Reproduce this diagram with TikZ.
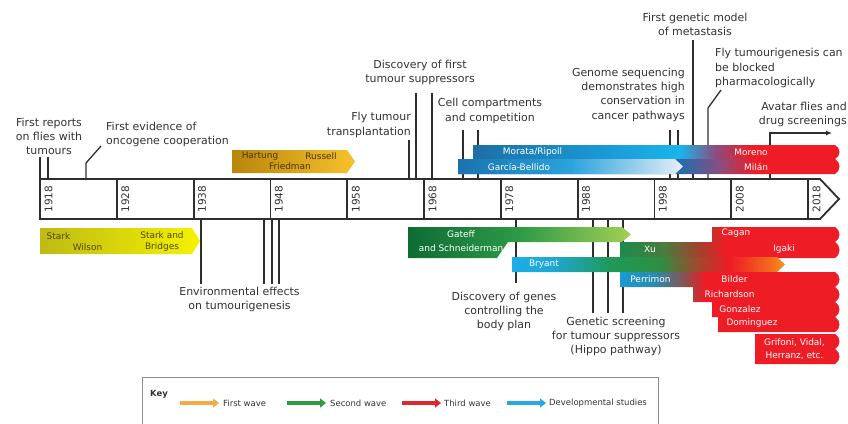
\documentclass[tikz,border=0pt]{standalone}
\usepackage{fontspec}
\setmainfont{DejaVu Sans}
\usetikzlibrary{arrows.meta}
\definecolor{txt}{HTML}{333333}
\definecolor{lc}{HTML}{2E2E2E}
\definecolor{rd}{HTML}{EE1C25}
\definecolor{bA}{HTML}{1D6FA6}
\definecolor{bM}{HTML}{1B98D3}
\definecolor{bB}{HTML}{1AB4EC}
\definecolor{pur}{HTML}{8A4E7E}
\definecolor{lbA}{HTML}{2A6AAA}
\definecolor{xA}{HTML}{1C8A4E}
\definecolor{xB}{HTML}{4E7A3E}
\definecolor{xC}{HTML}{A5402C}
\definecolor{yA}{HTML}{1EAEE6}
\definecolor{yB}{HTML}{1FA6D0}
\definecolor{yC}{HTML}{1E9A58}
\definecolor{yD}{HTML}{2E8E42}
\definecolor{yE}{HTML}{A8442C}
\definecolor{yF}{HTML}{F26A1E}
\definecolor{yG}{HTML}{F7941D}
\definecolor{pA}{HTML}{1B9BD3}
\definecolor{pB}{HTML}{2A8AA8}
\definecolor{pC}{HTML}{8A5050}
\definecolor{kOr}{HTML}{F5A947}
\definecolor{kGr}{HTML}{2E9B3E}
\definecolor{kRd}{HTML}{E0262B}
\definecolor{kBl}{HTML}{27A9E1}
\pgfdeclarehorizontalshading{upband}{100bp}{color(0bp)=(bA); color(25bp)=(bA); color(42.26bp)=(bM); color(53.13bp)=(bB); color(57.88bp)=(pur); color(62.64bp)=(rd); color(100bp)=(rd)}
\pgfdeclarehorizontalshading{lowband}{100bp}{color(0bp)=(lbA); color(25bp)=(lbA); color(54.37bp)=(lbA); color(59.2bp)=(pur); color(63.77bp)=(rd); color(100bp)=(rd)}
\pgfdeclarehorizontalshading{xuband}{100bp}{color(0bp)=(xA); color(25bp)=(xA); color(35.18bp)=(xB); color(43.1bp)=(xC); color(48.76bp)=(rd); color(100bp)=(rd)}
\pgfdeclarehorizontalshading{bryband}{100bp}{color(0bp)=(yA); color(25bp)=(yA); color(32.88bp)=(yB); color(42.95bp)=(yC); color(52.11bp)=(yD); color(59.43bp)=(yE); color(64.93bp)=(rd); color(72.25bp)=(yF); color(75bp)=(yG); color(100bp)=(yG)}
\pgfdeclarehorizontalshading{perband}{100bp}{color(0bp)=(pA); color(25bp)=(pA); color(32.92bp)=(pB); color(39.71bp)=(pC); color(44.23bp)=(rd); color(100bp)=(rd)}
\begin{document}
\begin{tikzpicture}[x=1bp,y=-1bp,
  lbl/.style={font=\fontsize{11}{14.4}\selectfont, text=txt, inner sep=0pt},
  blab/.style={font=\fontsize{9}{10}\selectfont, text=white, inner sep=0pt},
  dlab/.style={font=\fontsize{9}{10}\selectfont, inner sep=0pt},
  yr/.style={font=\fontsize{10.5}{11}\selectfont, text=txt, rotate=90, inner sep=0pt},
  conn/.style={draw=lc, line width=1.3bp},
  barline/.style={draw=lc, line width=1.8bp},
  keyarr/.style={line width=4bp, -{Triangle[length=6bp,width=9bp]}},
  keytxt/.style={font=\fontsize{8.5}{10}\selectfont, text=txt, anchor=west, inner sep=0pt}]
\useasboundingbox (0,0) rectangle (848,423);
\fill[white] (0,0) rectangle (848,423);

% ---------- labels above ----------
\node[lbl, align=center] (rep) at (49,136.5) {First reports\\on flies with\\tumours};
\node[lbl, align=left, anchor=west] (evid) at (106,134.5) {First evidence of\\oncogene cooperation};
\node[lbl, align=right, anchor=east] (transp) at (411,125) {Fly tumour\\transplantation};
\node[lbl, align=center] (supp) at (420,72.5) {Discovery of first\\tumour suppressors};
\node[lbl, align=center] (cell) at (490,111) {Cell compartments\\and competition};
\node[lbl, align=right, anchor=east] (genome) at (685,94.5) {Genome sequencing\\demonstrates high\\conservation in\\cancer pathways};
\node[lbl, align=center] (meta) at (695,24.5) {First genetic model\\of metastasis};
\node[lbl, align=left, anchor=west] (block) at (715,68) {Fly tumourigenesis can\\be blocked\\pharmacologically};
\node[lbl, align=right, anchor=east] (avatar) at (847,114.5) {Avatar flies and\\drug screenings};
% ---------- labels below ----------
\node[lbl, align=center] (env) at (239.5,299.5) {Environmental effects\\on tumourigenesis};
\node[lbl, align=center] (genes) at (504,311.5) {Discovery of genes\\controlling the\\body plan};
\node[lbl, align=center] (hippo) at (616,336.5) {Genetic screening\\for tumour suppressors\\(Hippo pathway)};

% ---------- connector end points ----------
\coordinate (rA) at (40,157);   \coordinate (rAb) at (40,179);
\coordinate (rB) at (48,157);   \coordinate (rBb) at (48,179);
\coordinate (eT) at (101,146);  \coordinate (eM) at (86,163); \coordinate (eB) at (86,179);
\coordinate (tT) at (409,140);  \coordinate (tB) at (409,179);
\coordinate (sA) at (416,93);   \coordinate (sAb) at (416,179);
\coordinate (sB) at (432,93);   \coordinate (sBb) at (432,179);
\coordinate (cA) at (463,130);  \coordinate (cAb) at (463,179);
\coordinate (cB) at (478,130);  \coordinate (cBb) at (478,179);
\coordinate (gA) at (670,130);  \coordinate (gAb) at (670,179);
\coordinate (gB) at (678,130);  \coordinate (gBb) at (678,179);
\coordinate (mT) at (693,40);   \coordinate (mB) at (693,179);
\coordinate (bT) at (721,90);   \coordinate (bM) at (708,108); \coordinate (bB) at (708,179);
\coordinate (aB) at (770,179);  \coordinate (aM) at (770,133); \coordinate (aE) at (832,133);
\coordinate (nA) at (201,219);  \coordinate (nAb) at (201,284);
\coordinate (nB) at (264,219);  \coordinate (nBb) at (264,284);
\coordinate (nC) at (272,219);  \coordinate (nCb) at (272,284);
\coordinate (nD) at (279,219);  \coordinate (nDb) at (279,284);
\coordinate (dA) at (516,219);  \coordinate (dAb) at (516,283);
\coordinate (hA) at (593,219);  \coordinate (hAb) at (593,313);
\coordinate (hB) at (608,219);  \coordinate (hBb) at (608,313);
\coordinate (hC) at (623,219);  \coordinate (hCb) at (623,313);

\draw[conn] (rA) -- (rAb);  \draw[conn] (rB) -- (rBb);
\draw[conn] (eT) -- (eM) -- (eB);
\draw[conn] (tT) -- (tB);
\draw[conn] (sA) -- (sAb);  \draw[conn] (sB) -- (sBb);
\draw[conn] (cA) -- (cAb);  \draw[conn] (cB) -- (cBb);
\draw[conn] (gA) -- (gAb);  \draw[conn] (gB) -- (gBb);
\draw[conn] (mT) -- (mB);
\draw[conn] (bT) -- (bM) -- (bB);
\draw[conn, -{Latex[length=6bp,width=5bp]}] (aB) -- (aM) -- (aE);
\draw[conn] (nA) -- (nAb); \draw[conn] (nB) -- (nBb); \draw[conn] (nC) -- (nCb); \draw[conn] (nD) -- (nDb);
\draw[conn] (dA) -- (dAb);
\draw[conn] (hA) -- (hAb); \draw[conn] (hB) -- (hBb); \draw[conn] (hC) -- (hCb);

% ---------- timeline bar ----------
\draw[barline, fill=white] (40,179) -- (820,179) -- (839,199) -- (820,219) -- (40,219) -- cycle;
\foreach \k/\yy in {0/1918,1/1928,2/1938,3/1948,4/1958,5/1968,6/1978,7/1988,8/1998,9/2008,10/2018}{
  \pgfmathsetmacro{\xx}{40+76.8*\k}
  \draw[barline] (\xx,179) -- (\xx,219);
  \node[yr] (y\yy) at (\xx+8.5,199) {\yy};
}

% ---------- upper bands ----------
\shade[left color={rgb,255:red,184;green,134;blue,11}, right color={rgb,255:red,247;green,194;blue,43}]
  (232,150) -- (347,150) -- (355,161.5) -- (347,173) -- (232,173) -- cycle;
\node[dlab, text={rgb,255:red,77;green,51;blue,0}] (hart) at (260,156) {Hartung};
\node[dlab, text={rgb,255:red,77;green,51;blue,0}] (russ) at (321,156) {Russell};
\node[dlab, text={rgb,255:red,77;green,51;blue,0}] (fried) at (290,166.5) {Friedman};

\shade[shading=upband] (473,145) -- (835,145) .. controls (841,148) and (841,156) .. (835,159) -- (473,159) -- cycle;
\shade[shading=lowband] (458,159) -- (835,159) .. controls (841,162) and (841,171) .. (835,174) -- (458,174) -- cycle;
\shade[left color={rgb,255:red,26;green,115;blue,173}, right color={rgb,255:red,232;green,238;blue,247}, middle color={rgb,255:red,42;green,163;blue,221}]
  (458,159) -- (675,159) -- (683,166.5) -- (675,174) -- (458,174) -- cycle;
\node[blab] (mor) at (532.5,152.5) {Morata/Ripoll};
\node[blab] (garc) at (519,167) {García-Bellido};
\node[blab] (moreno) at (751,152) {Moreno};
\node[blab] (milan) at (756,166.5) {Milán};

% ---------- lower bands ----------
\shade[left color={rgb,255:red,190;green,186;blue,20}, right color={rgb,255:red,245;green,242;blue,0}]
  (40,228) -- (192,228) -- (200,241) -- (192,254) -- (40,254) -- cycle;
\node[dlab, text={rgb,255:red,80;green,72;blue,0}] (stark1) at (58.5,236) {Stark};
\node[dlab, text={rgb,255:red,80;green,72;blue,0}] (wils) at (87.5,247) {Wilson};
\node[dlab, text={rgb,255:red,80;green,72;blue,0}] (stark2) at (162,235) {Stark and};
\node[dlab, text={rgb,255:red,80;green,72;blue,0}] (bridg) at (162,247) {Bridges};

\shade[left color={rgb,255:red,14;green,107;blue,53}, right color={rgb,255:red,163;green,207;blue,85}, middle color={rgb,255:red,46;green,154;blue,70}]
  (408,227) -- (622,227) -- (631,234.5) -- (622,242) -- (508,242) -- (497,258) -- (408,258) -- cycle;
\shade[shading=xuband] (620,242) -- (712,242) -- (712,227) -- (835,227)
  .. controls (841,230) and (841,239) .. (835,242)
  .. controls (841,245) and (841,255) .. (835,258) -- (620,258) -- cycle;
\shade[shading=bryband] (512,257) -- (777,257) -- (785,264.5) -- (777,272) -- (512,272) -- cycle;
\shade[shading=perband] (620,272) -- (835,272)
  .. controls (841,275) and (841,284) .. (835,287)
  .. controls (841,290) and (841,299) .. (835,302)
  .. controls (841,305) and (841,314) .. (835,317)
  .. controls (841,320) and (841,329) .. (835,332)
  -- (718,332) -- (718,317) -- (712,317) -- (712,302) -- (693,302) -- (693,287) -- (620,287) -- cycle;
\fill[rd] (755,334) -- (835,334)
  .. controls (841,337) and (841,346) .. (835,349)
  .. controls (841,352) and (841,361) .. (835,364) -- (755,364) -- cycle;

\node[blab] (gat) at (461,234) {Gateff};
\node[blab] (schn) at (461,248) {and Schneiderman};
\node[blab] (xu) at (650,249) {Xu};
\node[blab] (igaki) at (784,249) {Igaki};
\node[blab] (cagan) at (736,233) {Cagan};
\node[blab] (bry) at (544,264.5) {Bryant};
\node[blab] (perr) at (650.5,279) {Perrimon};
\node[blab] (bild) at (734.5,279) {Bilder};
\node[blab] (rich) at (729.5,294) {Richardson};
\node[blab] (gonz) at (740,309) {Gonzalez};
\node[blab] (domi) at (752,323.5) {Dominguez};
\node[blab, align=center, font=\fontsize{9}{13}\selectfont] (grif) at (794.5,349.5) {Grifoni, Vidal,\\Herranz, etc.};

% ---------- key ----------
\draw[draw={rgb,255:red,140;green,140;blue,140}, line width=1bp] (142,426) -- (142,377) -- (658,377) -- (658,426);
\node[font=\bfseries\fontsize{8.5}{10}\selectfont, text=txt, anchor=west, inner sep=0pt] (key) at (150,394) {Key};
\coordinate (k1a) at (180,403); \coordinate (k1b) at (219,403);
\coordinate (k2a) at (287,403); \coordinate (k2b) at (326,403);
\coordinate (k3a) at (402,403); \coordinate (k3b) at (441,403);
\coordinate (k4a) at (507,403); \coordinate (k4b) at (546,403);
\draw[keyarr, draw=kOr, fill=kOr] (k1a) -- (k1b);
\draw[keyarr, draw=kGr, fill=kGr] (k2a) -- (k2b);
\draw[keyarr, draw=kRd, fill=kRd] (k3a) -- (k3b);
\draw[keyarr, draw=kBl, fill=kBl] (k4a) -- (k4b);
\node[keytxt] (kt1) at (223,403) {First wave};
\node[keytxt] (kt2) at (330,403) {Second wave};
\node[keytxt] (kt3) at (444,403) {Third wave};
\node[keytxt] (kt4) at (549,403) {Developmental studies};
\end{tikzpicture}
\end{document}
